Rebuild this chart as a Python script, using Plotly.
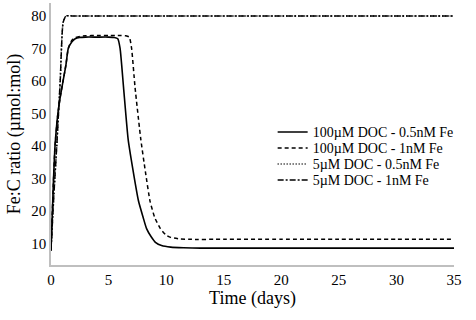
import plotly.graph_objects as go

# Series: 100uM DOC - 0.5nM Fe (solid)
t_a = [0, 0.2, 0.35, 0.6, 0.8, 1.05, 1.3, 1.5, 1.8, 2.1, 2.5, 3, 4, 5, 5.5, 5.8, 6.0, 6.3, 6.7, 7.1, 7.6, 8.0, 8.3, 8.7, 9.1, 9.6, 10.4, 11.5, 13, 15, 20, 25, 30, 35]
v_a = [7.8, 28, 40, 50, 55, 60, 65, 70, 72, 73, 73.4, 73.5, 73.5, 73.5, 73.4, 73, 70, 58, 42, 33, 23, 18, 14.5, 12, 10.2, 9.3, 8.8, 8.6, 8.5, 8.5, 8.5, 8.5, 8.5, 8.5]

# Series: 100uM DOC - 1nM Fe (dashed)
t_b = [0, 0.2, 0.35, 0.6, 0.8, 1.05, 1.3, 1.5, 1.8, 2.1, 2.5, 3, 4, 5, 6, 6.5, 6.8, 7.0, 7.3, 7.8, 8.2, 8.6, 9.0, 9.5, 10.0, 10.4, 11.2, 12, 15, 20, 25, 30, 35]
v_b = [7.8, 28, 40, 50, 55, 60, 65, 70, 72.5, 73.3, 73.7, 73.9, 74, 74, 74, 73.9, 73.5, 70, 58, 42, 32, 23, 18, 14.5, 12.5, 11.8, 11.3, 11.2, 11.2, 11.2, 11.2, 11.2, 11.2]

# Series: 5uM DOC - 0.5nM Fe (dotted)
t_c = [0, 0.25, 0.5, 0.8, 1.05, 1.3, 2, 5, 10, 20, 35]
v_c = [7.8, 25, 40, 60, 78, 80, 80, 80, 80, 80, 80]

# Series: 5uM DOC - 1nM Fe (dash-dot)
t_d = [0, 0.25, 0.5, 0.8, 1.05, 1.3, 2, 5, 10, 20, 35]
v_d = [7.8, 25, 40, 60, 78, 80, 80, 80, 80, 80, 80]

names = ["100µM DOC - 0.5nM Fe", "100µM DOC - 1nM Fe", "5µM DOC - 0.5nM Fe", "5µM DOC - 1nM Fe"]
x_ticks = [0, 5, 10, 15, 20, 25, 30, 35]
y_ticks = [10, 20, 30, 40, 50, 60, 70, 80]

FONT = "Liberation Serif"
series = [
    (t_a, v_a, "solid", 1.6, "legend"),
    (t_b, v_b, "4px,3px", 1.5, "legend2"),
    (t_c, v_c, "1px,2px", 1.5, "legend3"),
    (t_d, v_d, "6px,2px,2px,2px", 1.5, "legend4"),
]

fig = go.Figure()
for (t, v, dash, w, lg), nm in zip(series, names):
    fig.add_trace(go.Scatter(x=t, y=v, mode="lines", name=nm, legend=lg,
                             line=dict(color="black", width=w, dash=dash, shape="spline", smoothing=0.5)))

leg_common = dict(x=0.55, xanchor="left", yanchor="middle", bgcolor="rgba(0,0,0,0)",
                  font=dict(family=FONT, size=14, color="black"), itemwidth=30,
                  tracegroupgap=0, borderwidth=0)
# legend row centres (pixels 132.5, 148.5, 164.5, 180.5) as paper fractions
ys = [0.506, 0.445, 0.384, 0.323]
fig.update_layout(
    width=476, height=320,
    margin=dict(l=51, r=22, t=3, b=55),
    paper_bgcolor="white", plot_bgcolor="white",
    font=dict(family=FONT, size=15, color="black"),
    showlegend=True,
    legend=dict(y=ys[0], **leg_common),
    legend2=dict(y=ys[1], **leg_common),
    legend3=dict(y=ys[2], **leg_common),
    legend4=dict(y=ys[3], **leg_common),
    xaxis=dict(range=[0, 35], tickvals=x_ticks, ticktext=[str(v) for v in x_ticks],
               showgrid=False, zeroline=False, showline=True, linecolor="#bfbfbf", linewidth=1.5,
               ticks="", tickfont=dict(family=FONT, size=15, color="black"),
               title=dict(text="Time (days)", font=dict(family=FONT, size=18, color="black"), standoff=4)),
    yaxis=dict(range=[3.3, 84], tickvals=y_ticks, ticktext=[str(v) for v in y_ticks],
               showgrid=False, zeroline=False, showline=True, linecolor="#bfbfbf", linewidth=1.5,
               ticks="", tickfont=dict(family=FONT, size=15, color="black"),
               title=dict(text="Fe:C ratio (µmol:mol)", font=dict(family=FONT, size=18, color="black"), standoff=6)),
)
fig.write_html("out.html")
